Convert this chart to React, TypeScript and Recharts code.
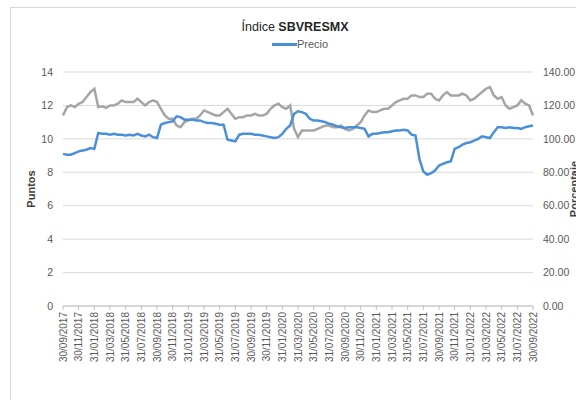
import { LineChart, Line, XAxis, YAxis, CartesianGrid } from "recharts";

// half-month samples, 30/09/2017 .. 30/09/2022
const precio = [
  9.1, 9.05, 9.05, 9.15, 9.25, 9.3, 9.35, 9.45, 9.4, 10.35,
  10.3, 10.3, 10.25, 10.3, 10.25, 10.25, 10.2, 10.25, 10.2, 10.3,
  10.2, 10.15, 10.25, 10.1, 10.05, 10.85, 10.95, 11.0, 11.05, 11.35,
  11.3, 11.15, 11.15, 11.15, 11.1, 11.1, 11.0, 10.95, 10.95, 10.9,
  10.85, 10.85, 9.95, 9.9, 9.85, 10.25, 10.3, 10.3, 10.3, 10.25,
  10.25, 10.2, 10.15, 10.1, 10.05, 10.1, 10.3, 10.6, 10.8, 11.5,
  11.65, 11.6, 11.5, 11.2, 11.1, 11.1, 11.05, 11.0, 10.9, 10.85,
  10.75, 10.7, 10.65, 10.7, 10.7, 10.7, 10.65, 10.6, 10.15, 10.3,
  10.3, 10.35, 10.4, 10.4, 10.45, 10.5, 10.5, 10.55, 10.5, 10.25,
  10.2, 8.8, 8.05, 7.85, 7.95, 8.1, 8.4, 8.5, 8.6, 8.65,
  9.4, 9.5, 9.65, 9.75, 9.8, 9.9, 10.0, 10.15, 10.1, 10.05,
  10.4, 10.7, 10.7, 10.65, 10.7, 10.65, 10.65, 10.6, 10.7, 10.75,
  10.8,
];

const porcentaje = [
  114, 119, 120, 119, 121, 122, 125, 128, 130, 119,
  119.5, 118.5, 120, 120, 121, 123, 122, 122, 122, 124,
  122, 120, 122, 123, 122, 118, 114, 112, 112, 108,
  107, 110, 111, 112, 112, 114, 117, 116, 115, 114,
  114, 116, 118, 115, 112, 113, 113, 114, 114, 115,
  114, 114, 115, 118, 120, 121, 119, 118, 120, 106,
  101, 105, 105, 105, 105, 106, 107, 108, 108, 107,
  107, 108, 106, 105, 106, 108, 110, 114, 117, 116,
  116, 117, 118, 118, 120, 122, 123, 124, 124, 126,
  126, 125, 125, 127, 127, 124, 123, 126, 128, 126,
  126, 126, 127, 126, 123, 124, 126, 128, 130, 131,
  126, 124, 125, 120, 118, 119, 120, 123, 121, 120,
  114,
];

const leftTicks = [0, 2, 4, 6, 8, 10, 12, 14];
const rightTicks = [0, 20, 40, 60, 80, 100, 120, 140];

const pad = (n: number) => String(n).padStart(2, "0");
const lastDay = (y: number, m: number) => new Date(y, m, 0).getDate();

// category labels: end of month, then the 15th of the next one
const fechas: string[] = [];
for (let i = 0; i < precio.length; i++) {
  const k = Math.floor(i / 2);
  const mAbs = 8 + k + (i % 2); // 0-based month index from Jan 2017
  const y = 2017 + Math.floor(mAbs / 12);
  const m = (mAbs % 12) + 1;
  const d = i % 2 === 0 ? lastDay(y, m) : 15;
  fechas.push(`${pad(d)}/${pad(m)}/${y}`);
}

const data = fechas.map((fecha, i) => ({
  fecha,
  precio: precio[i],
  porcentaje: porcentaje[i],
}));

const narrow = "'Liberation Sans Narrow', 'Arial Narrow', 'Liberation Sans', Arial, sans-serif";
const regular = "'Liberation Sans', Arial, sans-serif";
const tickColor = "#595959";

const DateTick = ({ x, y, payload }: any) => (
  <g transform={`translate(${x},${y})`}>
    <text
      x={0}
      y={0}
      dy="0.35em"
      textAnchor="end"
      transform="rotate(-90)"
      fontSize={10}
      fontFamily={regular}
      fill={tickColor}
    >
      {payload.value}
    </text>
  </g>
);

const AxisTitle = ({ viewBox, value, dx }: any) => {
  const cx = viewBox.x + dx;
  const cy = viewBox.y + viewBox.height / 2;
  return (
    <text
      x={cx}
      y={cy}
      transform={`rotate(-90 ${cx} ${cy})`}
      textAnchor="middle"
      dominantBaseline="central"
      fontSize={11}
      fontWeight="bold"
      fontFamily={narrow}
      fill="#404040"
    >
      {value}
    </text>
  );
};

export default function App() {
  return (
    <div
      style={{
        position: "absolute",
        left: 0,
        top: 0,
        width: 576,
        height: 400,
        overflow: "hidden",
        background: "#fff",
      }}
    >
      <div
        style={{
          position: "absolute",
          left: 10,
          top: 7,
          width: 620,
          height: 440,
          border: "1px solid #d9d9d9",
        }}
      />
      <div
        style={{
          position: "absolute",
          left: 0,
          width: 590,
          top: 20,
          textAlign: "center",
          fontFamily: narrow,
          fontSize: 12.5,
          color: "#262626",
        }}
      >
        Índice <b>SBVRESMX</b>
      </div>
      <div
        style={{
          position: "absolute",
          left: 272,
          top: 38,
          display: "flex",
          alignItems: "center",
          fontFamily: narrow,
          fontSize: 11,
          color: tickColor,
        }}
      >
        <span style={{ display: "inline-block", width: 25, height: 3, background: "#4a90d9" }} />
        <span>Precio</span>
      </div>
      <div style={{ position: "absolute", left: 0, top: 0 }}>
        <LineChart
          width={576}
          height={400}
          data={data}
          margin={{ top: 72, right: 0, bottom: 30, left: 23 }}
        >
          <CartesianGrid yAxisId="left" vertical={false} stroke="#d9d9d9" />
          <XAxis
            dataKey="fecha"
            interval={3}
            height={64}
            tick={<DateTick />}
            tickSize={4}
            tickMargin={2}
            axisLine={{ stroke: "#bfbfbf" }}
            tickLine={{ stroke: "#bfbfbf" }}
          />
          <YAxis
            yAxisId="left"
            domain={[0, 14]}
            ticks={leftTicks}
            width={40}
            axisLine={false}
            tickLine={false}
            tickSize={6}
            tickMargin={4}
            tick={{ fontSize: 10.5, fill: tickColor, fontFamily: narrow }}
            label={<AxisTitle value="Puntos" dx={8} />}
          />
          <YAxis
            yAxisId="right"
            orientation="right"
            domain={[0, 140]}
            ticks={rightTicks}
            width={43}
            axisLine={false}
            tickLine={false}
            tickSize={6}
            tickMargin={4}
            tickFormatter={(v: number) => v.toFixed(2)}
            tick={{ fontSize: 10.5, fill: tickColor, fontFamily: narrow }}
            label={<AxisTitle value="Porcentaje" dx={41} />}
          />
          <Line
            yAxisId="right"
            dataKey="porcentaje"
            stroke="#a5a5a5"
            strokeWidth={2.5}
            dot={false}
            isAnimationActive={false}
          />
          <Line
            yAxisId="left"
            dataKey="precio"
            stroke="#4a90d9"
            strokeWidth={2.5}
            dot={false}
            isAnimationActive={false}
          />
        </LineChart>
      </div>
    </div>
  );
}
